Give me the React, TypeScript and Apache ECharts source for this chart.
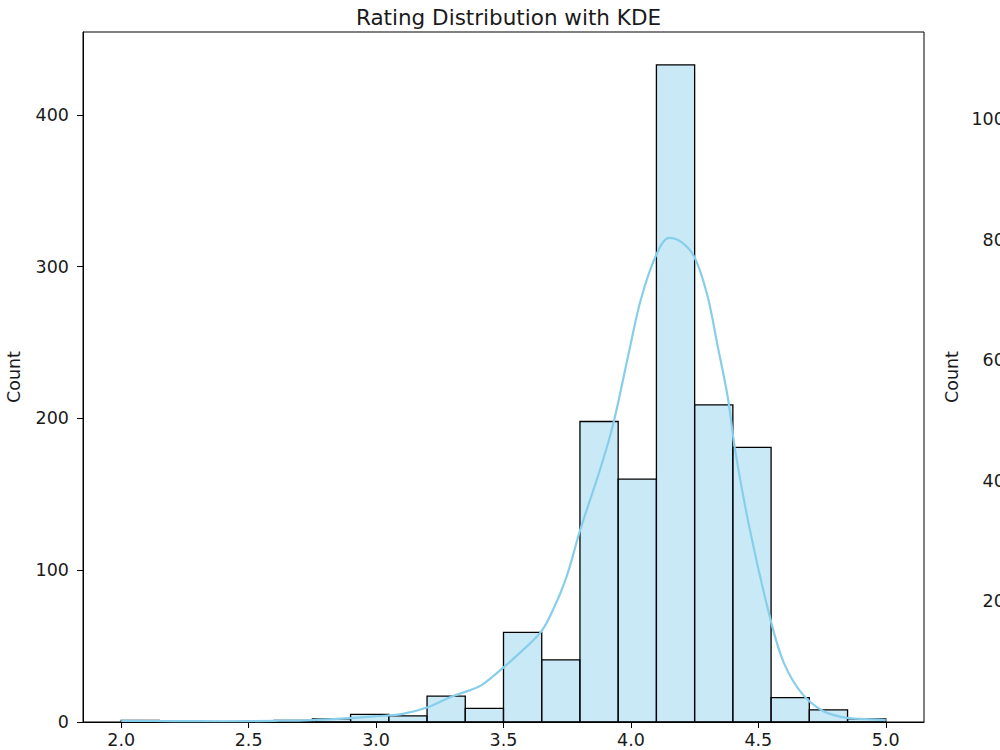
import React, { useEffect, useRef } from "react";
import * as echarts from "echarts";

const TITLE = "Rating Distribution with KDE";
const Y_NAME = "Count";

// histogram bins (rating ranges) and counts
const binStarts = [2.0, 2.15, 2.3, 2.45, 2.6, 2.75, 2.9, 3.05, 3.2, 3.35, 3.5, 3.65, 3.8, 3.95, 4.1, 4.25, 4.4, 4.55, 4.7, 4.85];
const binEnds = [2.15, 2.3, 2.45, 2.6, 2.75, 2.9, 3.05, 3.2, 3.35, 3.5, 3.65, 3.8, 3.95, 4.1, 4.25, 4.4, 4.55, 4.7, 4.85, 5.0];
const binCounts = [1, 0, 0, 0, 1, 2, 5, 4, 17, 9, 59, 41, 198, 160, 433, 209, 181, 16, 8, 2];

// KDE curve (scaled to counts)
const kdeX = [2.0, 2.2, 2.4, 2.6, 2.75, 2.9, 3.0, 3.1, 3.2, 3.3, 3.37, 3.42, 3.5, 3.58, 3.65, 3.7, 3.75, 3.8, 3.88, 3.93, 3.99, 4.04, 4.1, 4.15, 4.2, 4.25, 4.3, 4.34, 4.38, 4.41, 4.47, 4.55, 4.6, 4.67, 4.75, 4.83, 4.9, 5.0];
const kdeY = [0.8, 0.6, 0.5, 0.8, 1.3, 2.6, 3.8, 5.2, 9.5, 17, 21, 25, 36, 48, 60, 76, 97, 126, 167, 196, 242, 279, 308, 319, 316, 306, 281, 248, 214, 178, 124, 66, 39, 19, 7.6, 3.2, 2, 1.3];

const xTicks = [2.0, 2.5, 3.0, 3.5, 4.0, 4.5, 5.0];
const leftTicks = [0, 100, 200, 300, 400];
const rightTicks = [0, 200, 400, 600, 800, 1000];

const FONT = "DejaVu Sans";
const TXT = "#1a1a1a";

export default function App() {
  const ref = useRef<HTMLDivElement>(null);
  useEffect(() => {
    if (!ref.current) return;
    const chart = echarts.init(ref.current, null, { renderer: "svg" });
    const barData = binStarts.map((s, i) => [s, binEnds[i], binCounts[i]]);
    const kdeData = kdeX.map((x, i) => [x, kdeY[i]]);
    const axisText = { color: TXT, fontFamily: FONT, fontSize: 17.5 };
    chart.setOption({
      animation: false,
      backgroundColor: "#fff",
      title: {
        text: TITLE,
        left: 503.5,
        top: 1,
        textAlign: "center",
        textStyle: { color: TXT, fontFamily: FONT, fontSize: 21.5, fontWeight: "normal" },
      },
      grid: [
        { left: 83, right: 76, top: 32, bottom: 28, show: true, borderColor: "#000", borderWidth: 1, backgroundColor: "transparent", containLabel: false, outerBoundsMode: "none" },
        { left: 1030, width: 300, top: 32, bottom: 28, show: true, borderColor: "#000", borderWidth: 1, backgroundColor: "transparent", containLabel: false, outerBoundsMode: "none" },
      ],
      xAxis: [
        {
          type: "value",
          gridIndex: 0,
          min: 1.85,
          max: 5.15,
          axisLine: { show: true, onZero: false, lineStyle: { color: "#000", width: 1 } },
          axisTick: { show: true, inside: false, length: 6, lineStyle: { color: "#000", width: 1 }, customValues: xTicks },
          axisLabel: { ...axisText, margin: 9, customValues: xTicks, formatter: (v: number) => v.toFixed(1) },
          splitLine: { show: false },
        },
        {
          type: "value",
          gridIndex: 1,
          min: 0,
          max: 1,
          show: false,
        },
      ],
      yAxis: [
        {
          type: "value",
          gridIndex: 0,
          min: 0,
          max: 454.65,
          name: Y_NAME,
          nameLocation: "middle",
          nameGap: 60,
          nameTextStyle: { ...axisText },
          axisLine: { show: true, lineStyle: { color: "#000", width: 1 } },
          axisTick: { show: true, inside: false, length: 6, lineStyle: { color: "#000", width: 1 }, customValues: leftTicks },
          axisLabel: { ...axisText, margin: 14, customValues: leftTicks, formatter: (v: number) => String(v) },
          splitLine: { show: false },
        },
        {
          type: "value",
          gridIndex: 1,
          min: 0,
          max: 1144.5,
          name: Y_NAME,
          nameLocation: "middle",
          nameGap: 69,
          nameTextStyle: { ...axisText },
          axisLine: { show: true, lineStyle: { color: "#000", width: 1 } },
          axisTick: { show: true, inside: false, length: 6, lineStyle: { color: "#000", width: 1 }, customValues: rightTicks },
          axisLabel: { ...axisText, margin: 14, customValues: rightTicks, formatter: (v: number) => String(v) },
          splitLine: { show: false },
        },
      ],
      series: [
        {
          type: "custom",
          xAxisIndex: 0,
          yAxisIndex: 0,
          data: barData,
          encode: { x: [0, 1], y: 2 },
          renderItem: (params: any, api: any) => {
            const p0 = api.coord([api.value(0), api.value(2)]);
            const p1 = api.coord([api.value(1), 0]);
            return {
              type: "rect",
              shape: { x: p0[0], y: p0[1], width: p1[0] - p0[0], height: p1[1] - p0[1] },
              style: { fill: "rgba(135,206,235,0.45)", stroke: "#000", lineWidth: 1.3 },
            };
          },
          z: 2,
        },
        {
          type: "line",
          xAxisIndex: 0,
          yAxisIndex: 0,
          data: kdeData,
          smooth: 0.35,
          showSymbol: false,
          symbol: "none",
          lineStyle: { color: "#87CEEB", width: 2.2 },
          z: 3,
        },
        {
          type: "line",
          xAxisIndex: 1,
          yAxisIndex: 1,
          data: [],
        },
      ],
    });
    return () => chart.dispose();
  }, []);
  return (
    <div
      ref={ref}
      style={{ position: "absolute", left: 0, top: 0, width: 1000, height: 750, overflow: "hidden", background: "#fff" }}
    />
  );
}
